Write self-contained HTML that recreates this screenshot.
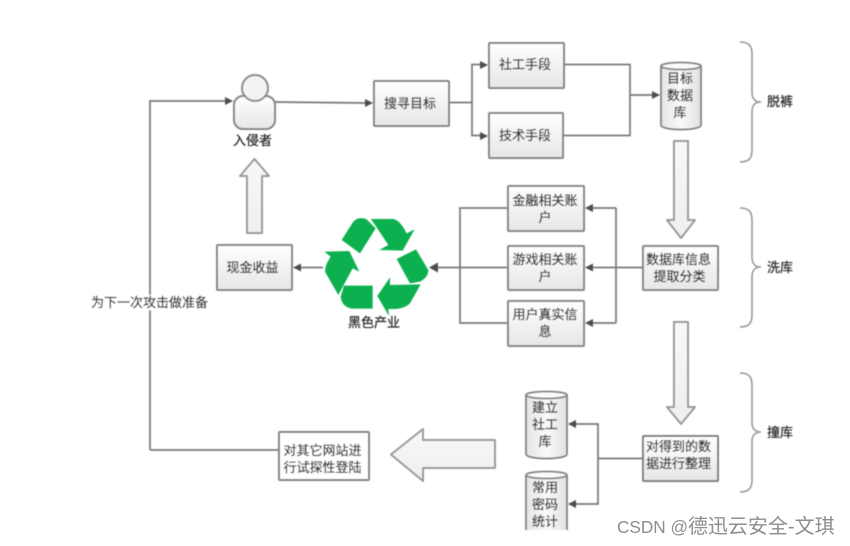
<!DOCTYPE html>
<html>
<head>
<meta charset="utf-8">
<style>
html,body{margin:0;padding:0;background:#fff;width:850px;height:546px;overflow:hidden}
svg{display:block;position:absolute;left:0;top:0}
text{font-family:"Liberation Sans","Noto Sans CJK SC",sans-serif;font-size:13px;fill:#2a2a2a;stroke:#2a2a2a;stroke-width:.25;text-anchor:middle;font-weight:400}
.b{fill:url(#g);stroke:#858585;stroke-width:2}
.l{fill:none;stroke:#787878;stroke-width:1.7}
.h{fill:#4d4d4d;stroke:none}
.ba{fill:url(#g2);stroke:#999;stroke-width:2;stroke-linejoin:round}
.br{fill:none;stroke:#999;stroke-width:1.6}
#wm{font-size:17.2px;fill:#8d8d8d;stroke:none;text-anchor:start}
#wm .c{font-size:20px}
</style>
</head>
<body>
<svg width="850" height="546" viewBox="0 0 850 546" xmlns="http://www.w3.org/2000/svg">
<defs>
<linearGradient id="g" x1="0" y1="0" x2="0" y2="1"><stop offset="0" stop-color="#fff"/><stop offset="1" stop-color="#e6e6e6"/></linearGradient>
<linearGradient id="g2" x1="0" y1="0" x2="0" y2="1"><stop offset="0" stop-color="#f8f8f8"/><stop offset="1" stop-color="#efefef"/></linearGradient>
<linearGradient id="g3" x1="0" y1="0" x2="1" y2="0"><stop offset="0" stop-color="#e4e4e4"/><stop offset=".5" stop-color="#fafafa"/><stop offset="1" stop-color="#e0e0e0"/></linearGradient>
<filter id="bl" x="-2%" y="-2%" width="104%" height="104%"><feGaussianBlur stdDeviation="0.5"/></filter>
</defs>
<g filter="url(#bl)">
<!-- connectors -->
<path class="l" d="M150 450V101H226"/>
<path class="l" d="M150 450H279"/>
<path class="l" d="M274 102L366 103"/>
<path class="l" d="M449 102.500H472M481 64.500H472V135.500H481"/>
<path class="l" d="M564 64.500H630V135.500H563M630 95H653"/>
<path class="l" d="M643 267.500H591M616 208V323M616 208H591M616 323H591"/>
<path class="l" d="M508 208H460V323H508M508 267.500H437"/>
<path class="l" d="M323 267.500H299"/>
<path class="l" d="M643 458.500H598M575 424H598V504H575"/>
<!-- arrowheads -->
<path class="h" d="M233 101l-8-4v8z"/>
<path class="h" d="M373 103l-8-4v8z"/>
<path class="h" d="M488 65l-8-4v8z"/>
<path class="h" d="M488 136l-8-4v8z"/>
<path class="h" d="M660 95l-8-4v8z"/>
<path class="h" d="M585 208l8-4v8z"/>
<path class="h" d="M585 267.500l8-4v8z"/>
<path class="h" d="M585 323l8-4v8z"/>
<path class="h" d="M429 267.500l9-5v10z"/>
<path class="h" d="M293 267.500l8-4v8z"/>
<path class="h" d="M568 424l8-4v8z"/>
<path class="h" d="M568 504l8-4v8z"/>
<!-- boxes -->
<rect class="b" x="374" y="81" width="75" height="45" rx="1"/>
<rect class="b" x="489" y="43" width="75" height="45" rx="1"/>
<rect class="b" x="489" y="113" width="74" height="45" rx="1"/>
<rect class="b" x="508" y="186" width="76" height="45" rx="1"/>
<rect class="b" x="508" y="246" width="76" height="44" rx="1"/>
<rect class="b" x="508" y="301" width="76" height="45" rx="1"/>
<rect class="b" x="643" y="246" width="75" height="44" rx="1"/>
<rect class="b" x="217" y="245" width="75" height="45" rx="1"/>
<rect x="279" y="432" width="90" height="48" rx="1" fill="#fff" stroke="#808080" stroke-width="2"/>
<rect x="643" y="436" width="75" height="45" rx="1" fill="url(#g)" stroke="#808080" stroke-width="2"/>
<!-- person -->
<rect class="b" x="234" y="96" width="41" height="33" rx="9"/>
<circle cx="255" cy="88" r="13" fill="#f3f3f3" stroke="#8a8a8a" stroke-width="2"/>
<!-- cylinders -->
<path d="M661 66V125C661 131 701 131 701 125V66Z" fill="url(#g3)" stroke="#808080" stroke-width="1.800"/>
<ellipse cx="681" cy="66" rx="20" ry="3.500" fill="#fafafa" stroke="#808080" stroke-width="1.800"/>
<path d="M526 395V454C526 460 567 460 567 454V395Z" fill="url(#g3)" stroke="#808080" stroke-width="1.800"/>
<ellipse cx="546.500" cy="395" rx="20.500" ry="3.500" fill="#fafafa" stroke="#808080" stroke-width="1.800"/>
<path d="M526 475H567V530H526Z" fill="url(#g3)"/>
<path d="M526 475V530M567 530V475" fill="none" stroke="#808080" stroke-width="1.800"/>
<ellipse cx="546.500" cy="475" rx="20.500" ry="3.500" fill="#fafafa" stroke="#808080" stroke-width="1.800"/>
<!-- block arrows -->
<path class="ba" d="M674 141H688V220H695L681 238L667 220H674Z"/>
<path class="ba" d="M674 322H688V407H695L681 424L667 407H674Z"/>
<path class="ba" d="M254.500 159L269 176H262V233H247V176H240Z"/>
<path class="ba" d="M391 454.500L423 429V440H495V468H423V481Z"/>
<!-- braces -->
<path class="br" d="M740 42C748 42 752 45 752 54V92C752 99 755 102 761 102C755 102 752 105 752 112V150C752 159 748 162 740 162"/>
<path class="br" d="M740 208C748 208 752 211 752 220V257C752 264 755 267 761 267C755 267 752 270 752 277V315C752 324 748 327 740 327"/>
<path class="br" d="M740 373C748 373 752 376 752 385V422C752 429 755 432 761 432C755 432 752 435 752 442V480C752 489 748 492 740 492"/>
<!-- recycle -->
<g transform="translate(210 190) scale(.3333)" fill="#0bb050">
<path d="M395 150L430 95Q445 78 470 88L497 115L450 190Z"/>
<path d="M483 87H550Q570 90 590 130L614 118L578 182L508 180L535 165Z"/>
<path d="M560 207L618 178L655 240Q655 262 630 275L600 280Z"/>
<path d="M632 283L600 340Q585 355 555 357H535L537 378L502 318L540 262V285Z"/>
<path d="M488 287V356H425Q395 350 392 320L402 287Z"/>
<path d="M385 315L345 245Q345 225 362 200L343 185L418 183L448 245L428 235Z"/>
</g>
<!-- labels -->
<text x="252.500" y="145">入侵者</text>
<text x="410" y="108">搜寻目标</text>
<text x="525" y="69">社工手段</text>
<text x="525" y="140">技术手段</text>
<text x="680" y="83">目标</text>
<text x="680" y="100">数据</text>
<text x="680" y="117">库</text>
<text x="780" y="106">脱裤</text>
<text x="545" y="205">金融相关账</text>
<text x="545" y="222">户</text>
<text x="545" y="264">游戏相关账</text>
<text x="545" y="281">户</text>
<text x="545" y="319">用户真实信</text>
<text x="545" y="336">息</text>
<text x="678.500" y="264">数据库信息</text>
<text x="679.500" y="281">提取分类</text>
<text x="780" y="272">洗库</text>
<text x="252.500" y="272">现金收益</text>
<text x="374" y="327">黑色产业</text>
<rect x="92" y="295" width="116" height="15" fill="#fff"/>
<text x="149.500" y="307">为下一次攻击做准备</text>
<text x="322.500" y="455">对其它网站进</text>
<text x="322.500" y="472">行试探性登陆</text>
<text x="545" y="412">建立</text>
<text x="545" y="429">社工</text>
<text x="545" y="446">库</text>
<text x="545" y="492">常用</text>
<text x="545" y="509">密码</text>
<text x="545" y="526">统计</text>
<text x="678.500" y="451">对得到的数</text>
<text x="678.500" y="468">据进行整理</text>
<text x="780" y="437">撞库</text>
</g>
<text id="wm" x="617" y="533">CSDN @<tspan class="c">德迅云安全-文琪</tspan></text>
</svg>
</body>
</html>
